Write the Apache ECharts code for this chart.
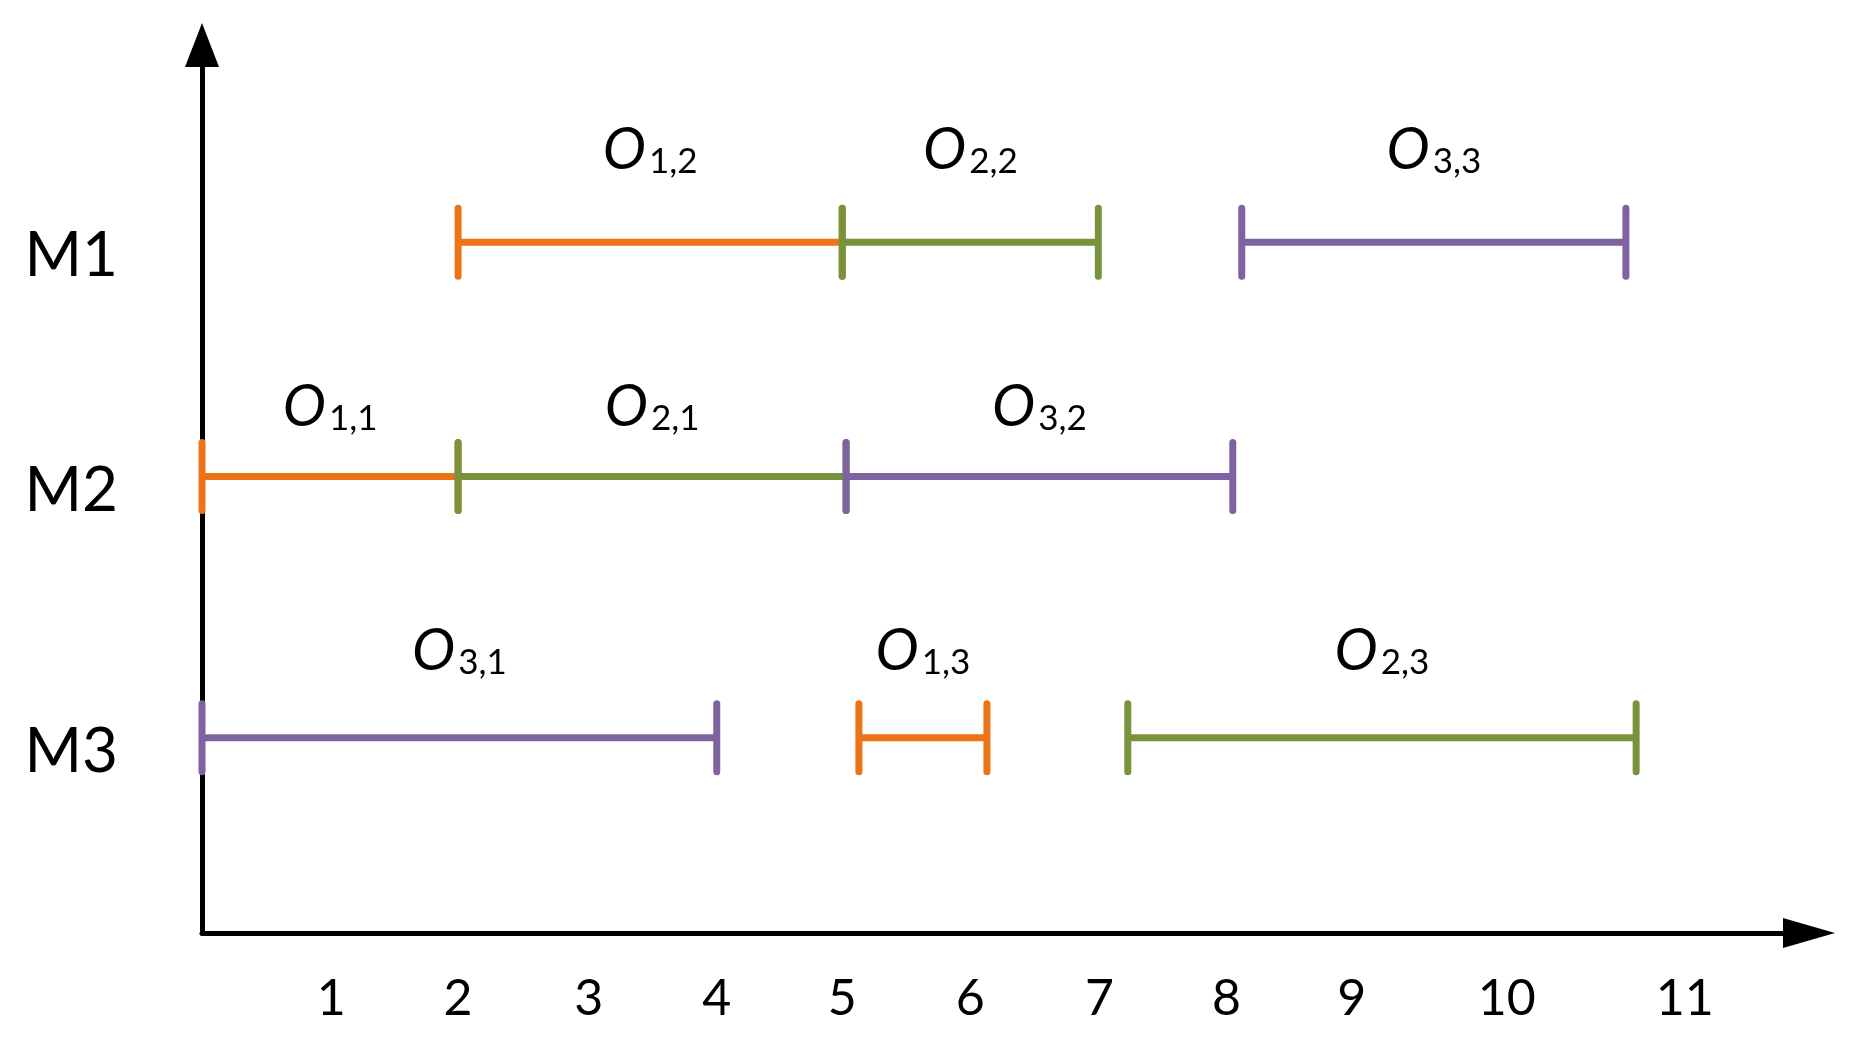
<!DOCTYPE html>
<html>
<head>
<meta charset="utf-8">
<style>
  html, body { margin: 0; padding: 0; background: #ffffff; }
  #chart { width: 1854px; height: 1042px; }
</style>
<script src="https://cdn.jsdelivr.net/npm/echarts@6/dist/echarts.min.js"></script>
</head>
<body>
<div id="chart"></div>
<script>
// ---- data ----
var machines = ['M1', 'M2', 'M3'];
var machineRow = [7.78, 5.14, 2.2];          // vertical position of each machine row on the y value axis
var opMachine = [0, 0, 0, 1, 1, 1, 2, 2, 2]; // index into machines
var opStart   = [2.0, 5.0, 8.12, 0.0, 2.0, 5.03, 0.0, 5.13, 7.23];
var opEnd     = [5.0, 7.0, 11.12, 2.0, 5.03, 8.05, 4.02, 6.13, 11.2];
var opJob     = [1, 2, 3, 1, 2, 3, 3, 1, 2];
var opIndex   = [2, 2, 3, 1, 1, 2, 1, 3, 3];
var tickValues = [1.01, 2.0, 3.02, 4.02, 5.0, 6.0, 7.01, 8.0, 8.98, 10.19, 11.58];
var tickLabels = ['1', '2', '3', '4', '5', '6', '7', '8', '9', '10', '11'];

// ---- styles ----
var jobColors = ['#EC7317', '#77933C', '#7F63A1'];
var rowLabelGap = [92, 69, 86];

var seriesData = [];
for (var i = 0; i < opStart.length; i++) {
  seriesData.push([opStart[i], opEnd[i], machineRow[opMachine[i]], opJob[i], opIndex[i], opMachine[i]]);
}

var chart = echarts.init(document.getElementById('chart'), null, { renderer: 'canvas' });

var option = {
  backgroundColor: '#ffffff',
  animation: false,
  grid: { left: 202, right: 45, top: 45, bottom: 109, containLabel: false, outerBoundsMode: 'none' },
  xAxis: {
    type: 'value',
    min: 0,
    max: 12.55,
    splitLine: { show: false },
    axisTick: { show: false },
    axisLine: {
      show: true,
      onZero: false,
      lineStyle: { color: '#000000', width: 5 },
      symbol: ['none', 'triangle'],
      symbolSize: [30, 52]
    },
    axisLabel: {
      customValues: tickValues,
      formatter: function (v) {
        var idx = tickValues.indexOf(v);
        return idx >= 0 ? tickLabels[idx] : '';
      },
      margin: 41,
      color: '#000000',
      fontFamily: 'Lato',
      fontSize: 50,
      lineHeight: 50
    }
  },
  yAxis: {
    type: 'value',
    min: 0,
    max: 10,
    splitLine: { show: false },
    axisTick: { show: false },
    axisLine: {
      show: true,
      onZero: false,
      lineStyle: { color: '#000000', width: 5 },
      symbol: ['none', 'triangle'],
      symbolSize: [34, 44]
    },
    axisLabel: {
      customValues: machineRow,
      formatter: function (v) {
        var idx = machineRow.indexOf(v);
        return idx >= 0 ? machines[idx] : '';
      },
      margin: 84,
      color: '#000000',
      fontFamily: 'Lato',
      fontSize: 62,
      verticalAlign: 'top',
      lineHeight: 28
    }
  },
  series: [{
    type: 'custom',
    data: seriesData,
    encode: { x: [0, 1], y: 2 },
    clip: false,
    renderItem: function (params, api) {
      var s = api.coord([api.value(0), api.value(2)]);
      var e = api.coord([api.value(1), api.value(2)]);
      var job = api.value(3);
      var k = api.value(4);
      var row = api.value(5);
      var col = jobColors[job - 1];
      var y = s[1];
      var capH = 34;
      return {
        type: 'group',
        children: [
          { type: 'line', shape: { x1: s[0], y1: y, x2: e[0], y2: y }, style: { stroke: col, lineWidth: 7 } },
          { type: 'line', shape: { x1: s[0], y1: y - capH, x2: s[0], y2: y + capH }, style: { stroke: col, lineWidth: 7, lineCap: 'round' } },
          { type: 'line', shape: { x1: e[0], y1: y - capH, x2: e[0], y2: y + capH }, style: { stroke: col, lineWidth: 7, lineCap: 'round' } },
          {
            type: 'text',
            x: (s[0] + e[0]) / 2,
            y: y - rowLabelGap[row] + 29,
            style: {
              text: '{o|O}{s|' + job + ',' + k + '}',
              align: 'center',
              verticalAlign: 'bottom',
              rich: {
                o: { fontFamily: 'Lato', fontStyle: 'italic', fontSize: 58, lineHeight: 58, verticalAlign: 'bottom', fill: '#000000' },
                s: { fontFamily: 'Lato', fontSize: 35, lineHeight: 24, verticalAlign: 'bottom', fill: '#000000', padding: [0, 0, 0, 3] }
              }
            }
          }
        ]
      };
    }
  }]
};

chart.setOption(option);
</script>
</body>
</html>
